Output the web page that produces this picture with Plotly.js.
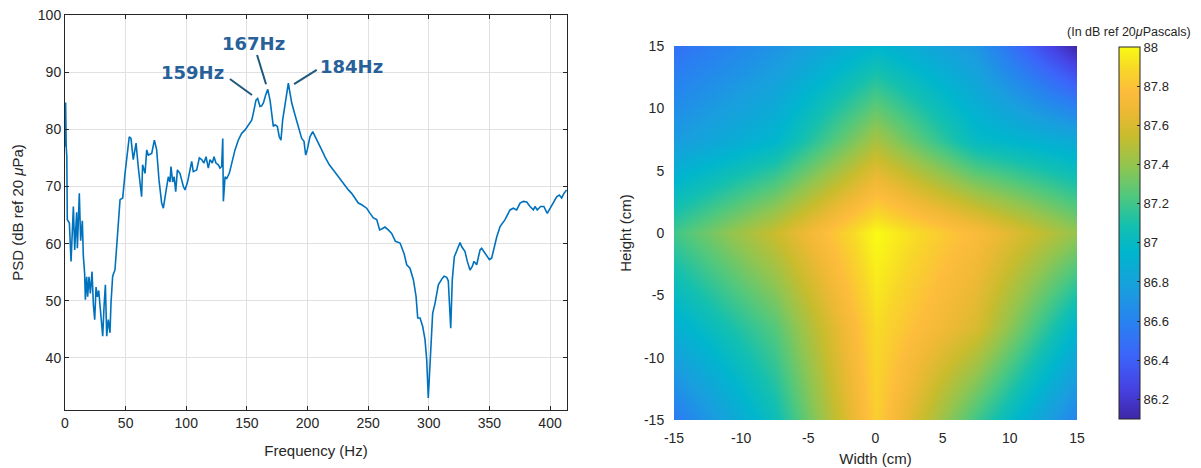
<!DOCTYPE html>
<html><head><meta charset="utf-8">
<script src="https://cdn.plot.ly/plotly-3.0.1.min.js"></script>
<style>html,body{margin:0;padding:0;background:#fff}#chart{width:1201px;height:468px}</style>
</head><body><div id="chart"></div>
<script>
const freqHz = [0,0.5,1.0,1.5,1.9,3.6,5.0,6.9,8.0,9.6,10.2,11.8,12.9,14.3,15.1,16.2,16.8,17.9,18.7,19.8,20.9,22.3,23.4,24.5,25.6,26.7,27.8,28.8,30.0,31.1,32.2,33.3,34.4,35.7,37.1,37.9,39.3,41.2,43.2,45.4,47.6,49.5,53.0,54.4,56.3,58.6,60.5,63.2,64.0,66.0,67.4,68.7,71.5,73.7,75.6,77.5,79.7,81.1,83.0,85.2,86.6,87.4,88.8,90.0,91.3,92.7,94.8,97.6,99.0,101.2,103.1,104.5,105.8,108.6,110.8,112.7,114.6,116.3,118.2,119.6,121.5,122.9,124.5,126.5,127.8,129.2,130.1,130.6,132.0,133.4,135.5,137.5,140.2,142.9,145.7,148.5,151.2,154.0,155.3,157.5,158.9,160.8,162.2,163.6,165.5,167.2,169.1,170.5,171.8,173.2,175.1,176.7,178.1,179.5,181.4,182.8,184.2,185.6,187.0,189.7,192.4,195.2,197.1,198.5,199.8,202.0,204.3,206.2,208.9,211.7,214.4,218.0,221.3,225.4,228.2,230.9,233.7,236.4,239.2,241.9,244.7,248.8,251.6,254.3,257.1,259.5,261.5,263.9,266.6,269.4,272.5,276.3,279.6,281.8,284.5,287.3,289.5,290.9,292.8,295.0,296.9,298.3,299.6,301.0,302.4,303.2,305.2,307.9,310.7,312.6,314.8,316.1,318.1,319.4,321.1,323.0,324.4,325.8,327.1,329.9,331.8,334.0,335.9,337.3,339.5,342.3,343.6,346.4,350.0,351.9,353.8,356.1,358.8,362.9,367.0,369.7,372.5,375.3,378.0,380.8,383.5,386.3,387.6,389.5,392.2,394.9,397.7,400.0,403.0,405.5,407.7,409.6,411.5,413.7];
const psdDb = [77,84.7,77,75.2,64.2,63.6,56.9,66.5,58.9,65.5,59.2,68.8,60.5,64,57.9,54.8,50.2,54.2,50.7,54.2,51.3,55.1,49.3,46.7,52.4,50.7,51.8,49.5,47.2,43.8,49,52.8,43.8,46.7,44.4,49.5,54.3,55.4,61.2,67.7,68,72.3,78.7,78.4,74.7,77.6,73.2,68.2,73.8,72.3,76.4,75.5,75.8,78.1,76.4,71.2,67.1,66.2,68.8,71.7,70.8,73.5,70.8,71.7,69.1,72.9,72.3,70,69.4,70.9,72.9,74.4,72.6,72.9,75,74.7,74.1,75.2,73.2,74.7,74.1,75.2,74.1,73.8,73.2,73.5,78.4,67.4,71.7,71.4,72.3,74.1,76.4,78.1,79.3,79.9,80.8,81.6,82.8,85.1,85.4,84,84.1,84.6,86,87,85.1,82.8,80.5,80.8,80.5,78.7,78.1,81.6,84,85.7,88.1,86.3,84.6,82.5,80.5,78.4,77.9,75.5,76.4,78.7,79.6,78.7,77.6,76.4,75.2,73.8,72.9,71.7,70.9,70,69.4,68.8,68,67.1,66.8,66.2,65.3,64.5,64.2,62.4,62.6,62.9,62.4,61.8,60.4,60.1,58.3,56.3,55.7,53.7,50.8,47,47,45.5,43.2,39.7,33,39.7,45.5,47.8,49.6,52.8,53.8,54.3,54.1,53.5,45.2,53.7,57.7,58.6,59.5,60.2,59.5,58.6,56.9,55.4,56,56.9,56.3,58.9,59.2,58.3,57.2,57.5,59.2,61.2,63,64.2,65.9,66.2,65.9,67.1,67.4,67.3,66.5,65.9,66.5,65.9,66.5,66.5,65.3,66.2,67.4,68.2,68.5,68,68.8,69.4];

const peakLabels = ['159Hz','167Hz','184Hz'];
const freqTicks = [0,50,100,150,200,250,300,350,400];
const psdTicks = [40,50,60,70,80,90,100];

const widthCm = [-15,-7.5,0,7.5,15];
const heightCm = [-15,-7.5,0,7.5,15];
const levelDb = [
  [86.55,87.05,87.85,87.2,86.6],
  [86.9,87.25,87.9,87.6,86.95],
  [87.2,87.55,88.0,87.75,87.4],
  [86.75,86.95,87.45,87.0,86.85],
  [86.5,86.7,86.95,86.72,86.1]
];
const cmTicks = [-15,-10,-5,0,5,10,15];
const cmTickText = ['-15','-10','-5','0','5','10','15'];
const cbTicks = [86.2,86.4,86.6,86.8,87,87.2,87.4,87.6,87.8,88];

const parula = [
  [0,'rgb(62,38,168)'],[0.08,'rgb(70,65,225)'],[0.17,'rgb(60,100,250)'],
  [0.26,'rgb(40,130,240)'],[0.35,'rgb(25,158,222)'],[0.45,'rgb(0,182,205)'],
  [0.52,'rgb(20,192,175)'],[0.60,'rgb(80,200,125)'],[0.68,'rgb(145,197,80)'],
  [0.76,'rgb(200,188,45)'],[0.83,'rgb(238,185,52)'],[0.88,'rgb(253,188,60)'],
  [0.94,'rgb(248,215,40)'],[1,'rgb(249,251,20)']
];

const FONT = 'Liberation Sans, Arial, sans-serif';
const TXT = '#262626';
const labelColor = 'rgb(40,96,153)';
const leaderColor = 'rgb(32,88,125)';

const traces = [
  {type:'scatter', mode:'lines', x:freqHz, y:psdDb, xaxis:'x', yaxis:'y',
   line:{color:'#0072BD', width:1.6}, hoverinfo:'x+y', showlegend:false},
  {type:'heatmap', x:widthCm, y:heightCm, z:levelDb, xaxis:'x2', yaxis:'y2',
   zsmooth:'best', zmin:86.1, zmax:88, colorscale:parula,
   colorbar:{x:0.9317, xanchor:'left', y:1-47/468, yanchor:'top',
     len:(419-47)/468, lenmode:'fraction', thickness:21, thicknessmode:'pixels',
     outlinecolor:'#262626', outlinewidth:1, ticks:'inside', ticklen:3, tickcolor:'#262626',
     tickvals:cbTicks, ticktext:cbTicks.map(String), tickfont:{family:FONT,size:13,color:TXT},
     xpad:0, ypad:0}}
];

const layout = {
  width:1201, height:468, margin:{l:0,r:0,t:0,b:0},
  paper_bgcolor:'#fff', plot_bgcolor:'#fff',
  font:{family:FONT, color:TXT, size:14},
  xaxis:{domain:[65/1201,567/1201], range:[0,414], tickvals:freqTicks, anchor:'y',
    showline:true, mirror:'ticks', linecolor:'#262626', linewidth:1,
    ticks:'inside', ticklen:4, tickcolor:'#262626', showgrid:true, gridcolor:'#e1e1e1',
    zeroline:false, tickfont:{size:14}, title:{text:'Frequency (Hz)', font:{size:15}, standoff:15}},
  yaxis:{domain:[1-410/468,1-15/468], range:[30.9,100], tickvals:psdTicks, anchor:'x',
    showline:true, mirror:'ticks', linecolor:'#262626', linewidth:1,
    ticks:'inside', ticklen:4, tickcolor:'#262626', showgrid:true, gridcolor:'#e1e1e1',
    zeroline:false, tickfont:{size:14}, title:{text:'PSD (dB ref 20 <i>μ</i>Pa)', font:{size:15}, standoff:10}},
  xaxis2:{domain:[674/1201,1077/1201], range:[-15,15], tickvals:cmTicks, ticktext:cmTickText, anchor:'y2',
    showline:false, ticks:'outside', ticklen:5, tickcolor:'rgba(0,0,0,0)', showgrid:false, zeroline:false, tickfont:{size:14},
    title:{text:'Width (cm)', font:{size:15}, standoff:8}},
  yaxis2:{domain:[1-420/468,1-46/468], range:[-15,15], tickvals:cmTicks, ticktext:cmTickText, anchor:'x2',
    showline:false, ticks:'outside', ticklen:6, tickcolor:'rgba(0,0,0,0)', showgrid:false, zeroline:false, tickfont:{size:14},
    title:{text:'Height (cm)', font:{size:15}, standoff:8}},
  shapes:[
    {type:'line', xref:'x', yref:'y', x0:136, y0:88.8, x1:154.2, y1:86.0, line:{color:leaderColor, width:2}},
    {type:'line', xref:'x', yref:'y', x0:158.4, y0:93.0, x1:165.8, y1:87.9, line:{color:leaderColor, width:2}},
    {type:'line', xref:'x', yref:'y', x0:207.6, y0:90.4, x1:188.9, y1:87.9, line:{color:leaderColor, width:2}}
  ],
  annotations:[
    {xref:'x', yref:'y', x:105.4, y:89.9, text:peakLabels[0], showarrow:false,
     font:{family:'DejaVu Sans, sans-serif', size:18, color:labelColor, weight:'bold'}},
    {xref:'x', yref:'y', x:155.4, y:95.0, text:peakLabels[1], showarrow:false,
     font:{family:'DejaVu Sans, sans-serif', size:18, color:labelColor, weight:'bold'}},
    {xref:'x', yref:'y', x:236.3, y:91.0, text:peakLabels[2], showarrow:false,
     font:{family:'DejaVu Sans, sans-serif', size:18, color:labelColor, weight:'bold'}},
    {xref:'paper', yref:'paper', x:1129/1201, y:1-32/468, xanchor:'center', yanchor:'middle',
     text:'(In dB ref 20<i>μ</i>Pascals)', showarrow:false, font:{family:FONT, size:12.5, color:TXT}}
  ]
};

Plotly.newPlot('chart', traces, layout, {displayModeBar:false, staticPlot:true});
</script></body></html>
